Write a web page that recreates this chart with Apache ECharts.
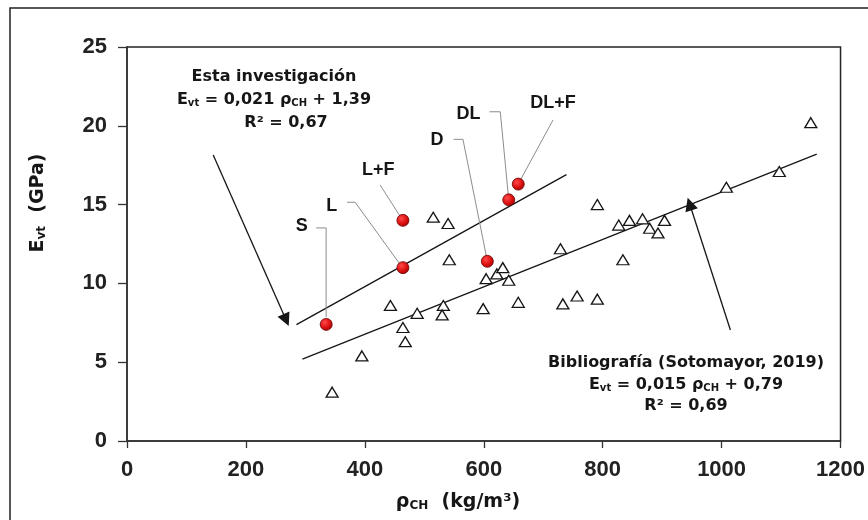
<!DOCTYPE html>
<html><head><meta charset="utf-8">
<script src="https://cdn.jsdelivr.net/npm/echarts@6/dist/echarts.min.js"></script>
<style>html,body{margin:0;padding:0;background:#fff}#c{width:868px;height:520px}</style>
</head><body><div id="c"></div>
<script>
// ---- data ----
const xTicks = [0, 200, 400, 600, 800, 1000, 1200];
const yTicks = [0, 5, 10, 15, 20, 25];
// Bibliografía (Sotomayor, 2019)
const litDensity = [515, 540, 542, 443, 488, 532, 530, 464, 468, 395, 345, 599, 604, 622, 632, 642, 658, 729, 733, 757, 791, 791, 827, 845, 867, 879, 893, 904, 834, 1008, 1097, 1150];
const litEvt     = [14.2, 13.8, 11.5, 8.6, 8.1, 8.6, 8.0, 7.2, 6.3, 5.4, 3.1, 8.4, 10.3, 10.6, 11.0, 10.2, 8.8, 12.2, 8.7, 9.2, 9.0, 15.0, 13.7, 14.0, 14.1, 13.5, 13.2, 14.0, 11.5, 16.1, 17.1, 20.2];
// Esta investigación
const ownNames   = ['S', 'L', 'L+F', 'D', 'DL', 'DL+F'];
const ownDensity = [335, 464, 464, 606, 642, 658];
const ownEvt     = [7.4, 11.0, 14.0, 11.4, 15.3, 16.3];
// trend lines (end points)
const ownFitX = [285, 739];
const ownFitY = [7.38, 16.9];
const litFitX = [295, 1160];
const litFitY = [5.2, 18.2];
// label anchors (data units)
const labelDensity = [294, 344.5, 422.4, 521.2, 574.4, 716.5];
const labelEvt     = [13.62, 14.88, 17.2, 19.1, 20.75, 21.43];
// leader polylines (data units)
const leaderX = [[318.1, 334.9, 334.9], [370.3, 383.7, 464], [425.8, 464], [549.2, 565, 606], [609.7, 627.8, 640.7, 642], [716.5, 658]];
const leaderY = [[13.52, 13.52, 7.87], [15.15, 15.15, 10.96], [16.24, 13.98], [19.14, 19.14, 11.42], [20.89, 20.89, 15.82, 15.29], [20.37, 16.31]];
// arrows (data units)
const arrowX = [[145, 267.6], [1014.8, 946.3]];
const arrowY = [[18.15, 7.68], [7.04, 15.04]];

// ---- chart ----
const zip = (a, b) => a.map((v, i) => [v, b[i]]);
const chart = echarts.init(document.getElementById('c'), null, {renderer: 'canvas'});
const ink = '#161616';
const eqFont = 'DejaVu Sans';
const rich = (fs) => ({
  b: {fontFamily: eqFont, fontWeight: 'bold', fontSize: fs, fill: ink},
  s: {fontFamily: eqFont, fontWeight: 'bold', fontSize: Math.round(fs * 0.62), fill: ink, verticalAlign: 'bottom'}
});
function txt(x, y, text, fs, rot) {
  return {type: 'text', x: x, y: y, rotation: rot || 0, z: 100,
    style: {text: text, rich: rich(fs), fontFamily: eqFont, fontWeight: 'bold', fontSize: fs, fill: ink, align: 'center', verticalAlign: 'middle'}};
}

const option = {
  animation: false,
  backgroundColor: '#fff',
  grid: {left: 127, right: 27, top: 47, bottom: 79, show: true, borderColor: '#222', borderWidth: 1.5, backgroundColor: 'transparent'},
  xAxis: {
    type: 'value', min: xTicks[0], max: xTicks[xTicks.length - 1], interval: xTicks[1] - xTicks[0],
    axisLine: {show: true, onZero: false, lineStyle: {color: '#333', width: 1.5}},
    axisTick: {show: true, inside: false, length: 7, lineStyle: {color: '#333', width: 1.3}},
    axisLabel: {margin: 18, fontFamily: 'Liberation Sans', fontWeight: 'bold', fontSize: 22, color: '#222', formatter: (v) => String(v)},
    splitLine: {show: false}
  },
  yAxis: {
    type: 'value', min: yTicks[0], max: yTicks[yTicks.length - 1], interval: yTicks[1] - yTicks[0],
    axisLine: {show: true, onZero: false, lineStyle: {color: '#333', width: 1.5}},
    axisTick: {show: true, inside: false, length: 9, lineStyle: {color: '#333', width: 1.3}},
    axisLabel: {margin: 20, fontFamily: 'Liberation Sans', fontWeight: 'bold', fontSize: 22, color: '#222', formatter: (v) => String(v)},
    splitLine: {show: false}
  },
  graphic: [
    {type: 'rect', shape: {x: 10, y: 8, width: 900, height: 600}, style: {fill: 'none', stroke: '#222', lineWidth: 1.5}, z: 0, silent: true},
    txt(274, 77, '{b|Esta investigación}', 16),
    txt(274, 100, '{b|E}{s|vt}{b| = 0,021 ρ}{s|CH}{b| + 1,39}', 16),
    txt(286, 123, '{b|R² = 0,67}', 16),
    txt(686, 363, '{b|Bibliografía (Sotomayor, 2019)}', 16),
    txt(686, 385, '{b|E}{s|vt}{b| = 0,015 ρ}{s|CH}{b| + 0,79}', 16),
    txt(686, 406, '{b|R² = 0,69}', 16),
    txt(38, 203, '{b|E}{s|vt}{b|  (GPa)}', 19, Math.PI / 2),
    txt(458, 502, '{b|ρ}{s|CH}{b|  (kg/m³)}', 19)
  ],
  series: [
    {type: 'line', data: zip(litFitX, litFitY), symbol: 'none', silent: true, z: 2,
      lineStyle: {color: ink, width: 1.3}},
    {type: 'line', data: zip(ownFitX, ownFitY), symbol: 'none', silent: true, z: 2,
      lineStyle: {color: ink, width: 1.3}},
    {type: 'lines', coordinateSystem: 'cartesian2d', polyline: true, silent: true, z: 3,
      data: leaderX.map((xs, i) => ({coords: zip(xs, leaderY[i])})),
      lineStyle: {color: '#8c8c8c', width: 1, opacity: 1}},
    {type: 'lines', coordinateSystem: 'cartesian2d', silent: true, z: 3,
      symbol: ['none', 'triangle'], symbolSize: 13,
      data: arrowX.map((xs, i) => ({coords: zip(xs, arrowY[i])})),
      lineStyle: {color: ink, width: 1.3, opacity: 1}},
    {type: 'scatter', data: zip(litDensity, litEvt), symbol: 'triangle', symbolSize: [12, 10], z: 4,
      itemStyle: {color: '#fff', borderColor: ink, borderWidth: 1.3, opacity: 1}},
    {type: 'scatter', data: zip(ownDensity, ownEvt), symbol: 'circle', symbolSize: 12, z: 5,
      itemStyle: {
        opacity: 1,
        color: new echarts.graphic.RadialGradient(0.38, 0.35, 0.75, [
          {offset: 0, color: '#ff4a4a'}, {offset: 0.55, color: '#dc1010'}, {offset: 1, color: '#980000'}]),
        borderColor: '#6a0000', borderWidth: 0.8}},
    {type: 'scatter', z: 6, symbolSize: 1, itemStyle: {color: 'rgba(0,0,0,0)', opacity: 1},
      data: labelDensity.map((x, i) => ({value: [x, labelEvt[i]], name: ownNames[i]})),
      label: {show: true, position: 'inside', formatter: '{b}', fontFamily: 'Liberation Sans', fontWeight: 'bold', fontSize: 18, color: ink, opacity: 1}}
  ]
};
chart.setOption(option);
</script>
</body></html>
